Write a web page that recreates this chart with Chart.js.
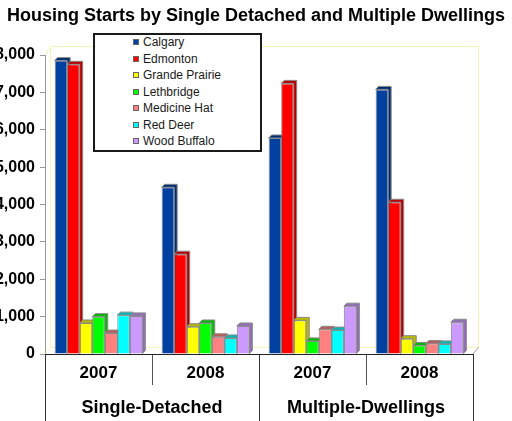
<!DOCTYPE html>
<html>
<head>
<meta charset="utf-8">
<script src="https://cdn.jsdelivr.net/npm/chart.js@4.4.0/dist/chart.umd.min.js"></script>
<style>
html, body { margin: 0; padding: 0; background: #fff; }
#wrap { position: relative; width: 512px; height: 421px; overflow: hidden; }
#legend {
	position: absolute; left: 93px; top: 33px; width: 169px; height: 119px;
	box-sizing: border-box; border: 2px solid #1a1a1a; background: #fff;
	font: 12px "Liberation Sans", Arial, sans-serif; color: #1a1a1a;
}
.item { position: absolute; left: 38px; height: 16px; line-height: 16px; white-space: nowrap; }
.swatch { display: inline-block; width: 4px; height: 4px; border: 1px solid #666; margin-right: 4px; vertical-align: 1px; }
</style>
</head>
<body>
<div id="wrap">
	<canvas id="chart" width="512" height="421"></canvas>
	<div id="legend"></div>
</div>
<script>
const groups = ['Single-Detached', 'Multiple-Dwellings'];
const years = ['2007', '2008', '2007', '2008'];
const cities = ['Calgary', 'Edmonton', 'Grande Prairie', 'Lethbridge', 'Medicine Hat', 'Red Deer', 'Wood Buffalo'];

const calgary = [7850, 4460, 5780, 7080];
const edmonton = [7750, 2670, 7240, 4060];
const grandePrairie = [830, 730, 900, 410];
const lethbridge = [1000, 830, 350, 230];
const medicineHat = [560, 460, 660, 280];
const redDeer = [1040, 430, 640, 270];
const woodBuffalo = [1020, 750, 1280, 850];

const yMax = 8000;
const yStep = 1000;

const series = [calgary, edmonton, grandePrairie, lethbridge, medicineHat, redDeer, woodBuffalo];
const colors = ['#0040a0', '#ff0000', '#ffff00', '#00ff00', '#ff8080', '#00ffff', '#cc99ff'];

function shade(hex, f) {
	const n = parseInt(hex.slice(1), 16);
	const r = Math.round(((n >> 16) & 255) * f);
	const g = Math.round(((n >> 8) & 255) * f);
	const b = Math.round((n & 255) * f);
	return 'rgb(' + r + ',' + g + ',' + b + ')';
}

// fake 3d: top + right side faces, drawn before the fronts
const depth3d = {
	id: 'depth3d',
	beforeDatasetsDraw(chart) {
		const ctx = chart.ctx;
		const d = 3;
		chart.data.datasets.forEach((ds, i) => {
			chart.getDatasetMeta(i).data.forEach(bar => {
				const l = bar.x - bar.width / 2, r = bar.x + bar.width / 2;
				const t = bar.y, b = bar.base;
				ctx.save();
				ctx.fillStyle = shade(ds.backgroundColor, 0.72);
				ctx.strokeStyle = '#8a8a8a';
				ctx.lineWidth = 1;
				ctx.beginPath();
				ctx.moveTo(l, t);
				ctx.lineTo(l + d, t - d);
				ctx.lineTo(r + d, t - d);
				ctx.lineTo(r + d, b - d);
				ctx.lineTo(r, b);
				ctx.lineTo(r, t);
				ctx.closePath();
				ctx.fill();
				ctx.stroke();
				ctx.restore();
			});
		});
	}
};

// back wall outline + category table under the axis
const frame = {
	id: 'frame',
	beforeDatasetsDraw(chart) {
		const ctx = chart.ctx;
		const a = chart.chartArea;
		ctx.save();
		ctx.strokeStyle = '#f4f4b8';
		ctx.lineWidth = 1;
		ctx.beginPath();
		ctx.moveTo(a.left + 0.5, a.top);
		ctx.lineTo(a.left + 5.5, a.top - 8.5);
		ctx.lineTo(a.right + 5.5, a.top - 8.5);
		ctx.lineTo(a.right + 5.5, a.bottom - 6);
		ctx.moveTo(a.left + 5.5, a.top - 8.5);
		ctx.lineTo(a.left + 5.5, a.bottom - 6.5);
		ctx.lineTo(a.right + 5.5, a.bottom - 6.5);
		ctx.moveTo(a.left + 0.5, a.bottom);
		ctx.lineTo(a.left + 5.5, a.bottom - 6.5);
		ctx.stroke();
		ctx.strokeStyle = '#999';
		ctx.beginPath();
		ctx.moveTo(a.right, a.bottom);
		ctx.lineTo(a.right + 5.5, a.bottom - 6.5);
		ctx.stroke();
		ctx.restore();
	},
	afterDraw(chart) {
		const ctx = chart.ctx;
		const a = chart.chartArea;
		const x = chart.scales.x;
		const h = chart.height;
		ctx.save();
		ctx.strokeStyle = '#333';
		ctx.lineWidth = 1;
		const mid = (x.getPixelForValue(1) + x.getPixelForValue(2)) / 2;
		[a.left, mid, a.right].forEach(px => {
			const p = Math.round(px) + 0.5;
			ctx.beginPath();
			ctx.moveTo(p, a.bottom);
			ctx.lineTo(p, h);
			ctx.stroke();
		});
		ctx.fillStyle = '#000';
		ctx.font = 'bold 18px "Liberation Sans", Arial, sans-serif';
		ctx.textAlign = 'center';
		ctx.textBaseline = 'alphabetic';
		groups.forEach((g, i) => {
			const cx = (x.getPixelForValue(i * 2) + x.getPixelForValue(i * 2 + 1)) / 2;
			ctx.fillText(g, cx, 413);
		});
		ctx.restore();
	}
};

const ctx = document.getElementById('chart').getContext('2d');
const chart = new Chart(ctx, {
	type: 'bar',
	data: {
		labels: years,
		datasets: cities.map((c, i) => ({
			label: c,
			data: series[i],
			backgroundColor: colors[i],
			borderColor: '#8a8a8a',
			borderWidth: 1,
			categoryPercentage: 0.82,
			barPercentage: 1
		}))
	},
	options: {
		responsive: false,
		animation: false,
		layout: { padding: 0 },
		plugins: {
			legend: { display: false },
			tooltip: { enabled: false },
			title: {
				display: true,
				text: 'Housing Starts by Single Detached and Multiple Dwellings',
				color: '#000',
				align: 'center',
				font: { family: '"Liberation Sans", Arial, sans-serif', size: 18, weight: 'bold' },
				padding: { top: 5, bottom: 28.4 }
			}
		},
		scales: {
			x: {
				afterFit: s => { s.height = 67; },
				border: { display: true, color: '#222' },
				grid: { offset: true, drawOnChartArea: false, drawTicks: true, tickLength: 31, color: '#555' },
				ticks: {
					color: '#000',
					padding: -22,
					font: { family: '"Liberation Sans", Arial, sans-serif', size: 17, weight: 'bold' }
				}
			},
			y: {
				min: 0,
				max: yMax,
				afterFit: s => { s.width = 45; },
				border: { display: true, color: '#999' },
				grid: { drawOnChartArea: false, drawTicks: true, tickLength: 5, color: '#999' },
				ticks: {
					stepSize: yStep,
					padding: 5,
					color: '#000',
					font: { family: '"Liberation Sans", Arial, sans-serif', size: 16, weight: 'bold' },
					callback: v => v.toLocaleString('en-US')
				}
			},
			// empty right-hand space, keeps the title centred on the whole canvas
			pad: {
				position: 'right',
				min: 0,
				max: yMax,
				afterFit: s => { s.width = 39; },
				border: { display: false },
				grid: { display: false },
				ticks: { display: false }
			}
		}
	},
	plugins: [frame, depth3d]
});

// legend box drawn over the plot, like the original
const legend = document.getElementById('legend');
cities.forEach((c, i) => {
	const item = document.createElement('div');
	item.className = 'item';
	item.style.top = (-1 + i * 16.5) + 'px';
	item.innerHTML = '<span class="swatch" style="background:' + colors[i] + '"></span>' + c;
	legend.appendChild(item);
});
</script>
</body>
</html>
